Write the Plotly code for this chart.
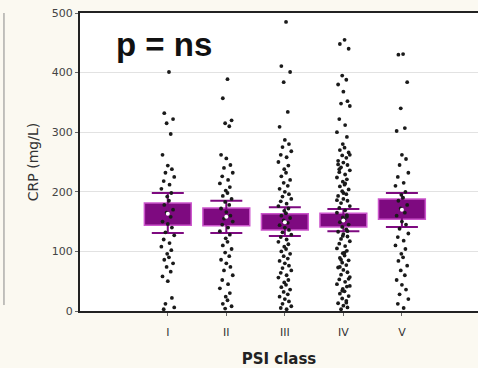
import plotly.graph_objects as go

categories = ["I", "II", "III", "IV", "V"]

# summary statistics (CRP mg/L)
means = [163, 158, 149, 152, 170]
box_low = [144, 143, 136, 141, 154]
box_high = [181, 173, 163, 164, 188]
whisk_low = [131, 131, 126, 134, 141]
whisk_high = [198, 185, 174, 171, 198]

# individual observations per PSI class
vals_I = [401, 332, 322, 315, 297, 262, 244, 238, 232, 225, 218, 212, 205, 198,
          192, 185, 178, 170, 165, 158, 150, 146, 140, 132, 127, 120, 114, 108,
          102, 96, 90, 86, 80, 74, 66, 58, 50, 22, 12, 6, 3]
vals_II = [389, 357, 320, 315, 310, 262, 256, 245, 240, 232, 226, 220, 214, 208,
           202, 198, 193, 188, 183, 178, 172, 166, 160, 155, 150, 145, 140, 134,
           128, 122, 116, 110, 104, 98, 92, 86, 80, 74, 68, 60, 52, 45, 38, 30,
           24, 18, 12, 8, 4]
vals_III = [485, 411, 401, 384, 334, 309, 287, 280, 275, 268, 262, 258, 250, 244,
            238, 232, 226, 220, 215, 210, 205, 200, 196, 192, 188, 184, 180, 176,
            172, 168, 164, 160, 156, 152, 148, 144, 140, 136, 132, 128, 124, 120,
            116, 112, 108, 104, 100, 96, 92, 88, 84, 80, 76, 72, 68, 64, 60, 56,
            52, 48, 44, 40, 36, 32, 28, 24, 20, 16, 12, 8, 5, 3]
vals_IV = [455, 448, 440, 395, 388, 380, 368, 352, 348, 344, 322, 312, 300, 292,
           280, 274, 270, 266, 261, 257, 252, 249, 245, 241, 236, 233, 229, 224,
           221, 217, 212, 209, 204, 201, 196, 193, 188, 185, 181, 176, 173, 169,
           165, 161, 157, 153, 149, 145, 141, 137, 133, 129, 125, 121, 117, 113,
           109, 105, 101, 97, 93, 89, 85, 81, 77, 73, 69, 65, 61, 57, 53, 49, 45,
           41, 37, 33, 29, 25, 21, 17, 13, 9, 6, 3, 262, 238, 214, 186, 158, 126,
           98, 74, 54, 34, 14, 246, 198, 134, 86, 42]
vals_V = [431, 430, 384, 340, 307, 302, 262, 255, 245, 232, 225, 215, 210, 200,
          195, 190, 185, 178, 172, 165, 160, 150, 145, 138, 130, 124, 118, 110,
          104, 96, 90, 84, 76, 68, 60, 52, 44, 36, 28, 20, 12, 5]

# fixed horizontal jitter pattern (category units)
jitter = [0.02, -0.06, 0.09, -0.02, 0.05, -0.09, 0.0, 0.07, -0.04, 0.11, -0.07,
          0.03, -0.11, 0.06, -0.01]

groups = [vals_I, vals_II, vals_III, vals_IV, vals_V]

PURPLE = "#7e0a80"
FONT = "DejaVu Sans, Liberation Sans, Arial"
fig = go.Figure()

# boxes
fig.add_trace(go.Bar(
    x=list(range(5)),
    y=[h - l for h, l in zip(box_high, box_low)],
    base=box_low,
    width=0.8,
    marker=dict(color=PURPLE, line=dict(color="#cc55cc", width=1.5)),
    hoverinfo="skip",
))

# whiskers
fig.add_trace(go.Scatter(
    x=list(range(5)), y=means, mode="markers",
    marker=dict(color="rgba(0,0,0,0)", size=1),
    error_y=dict(type="data", symmetric=False,
                 array=[h - m for h, m in zip(whisk_high, means)],
                 arrayminus=[m - l for m, l in zip(means, whisk_low)],
                 color=PURPLE, thickness=2, width=16),
    hoverinfo="skip",
))

# raw points
for i, vals in enumerate(groups):
    xs = [i + jitter[k % len(jitter)] for k in range(len(vals))]
    fig.add_trace(go.Scatter(
        x=xs, y=vals, mode="markers",
        marker=dict(color="#1a1a1a", size=3.8),
        hoverinfo="skip",
    ))

# mean markers
fig.add_trace(go.Scatter(
    x=list(range(5)), y=means, mode="markers",
    marker=dict(color="white", size=4),
    hoverinfo="skip",
))

fig.add_annotation(x=0.085, y=0.893, xref="paper", yref="paper",
                   text="<b>p = ns</b>", showarrow=False,
                   xanchor="left", yanchor="middle",
                   font=dict(size=33, color="#111", family="Liberation Sans, Arial"))

# edge of neighbouring panel
fig.add_shape(type="line", xref="paper", yref="paper",
              x0=-0.191, x1=-0.191, y0=0.02, y1=1.0,
              line=dict(color="#888", width=1))

fig.update_layout(
    width=478, height=368,
    margin=dict(l=80, r=0, t=13, b=57, autoexpand=False),
    paper_bgcolor="#fbf9f1",
    plot_bgcolor="#ffffff",
    showlegend=False,
    font=dict(family=FONT, color="#222"),
    xaxis=dict(
        range=[-1.5, 5.3],
        tickvals=list(range(5)), ticktext=categories,
        tickfont=dict(size=11, color="#333"),
        showgrid=False, zeroline=False,
        showline=True, linecolor="#222", linewidth=2, mirror=True,
        ticks="outside", ticklen=3, tickcolor="#666",
        ticklabelstandoff=7,
        title=dict(text="<b>PSI class</b>", font=dict(size=15, color="#222"), standoff=16),
    ),
    yaxis=dict(
        range=[0, 500], tickvals=[0, 100, 200, 300, 400, 500],
        tickfont=dict(size=11, color="#444"),
        showgrid=True, gridcolor="#e2e2e2", gridwidth=1,
        zeroline=False,
        showline=True, linecolor="#222", linewidth=2,
        ticks="outside", ticklen=3, tickcolor="#666",
        title=dict(text="CRP (mg/L)", font=dict(size=14, color="#333"), standoff=10),
    ),
)

fig.write_html("out.html", config={"displayModeBar": False},
               post_script="document.body.style.margin='0';document.body.style.overflow='hidden';")
